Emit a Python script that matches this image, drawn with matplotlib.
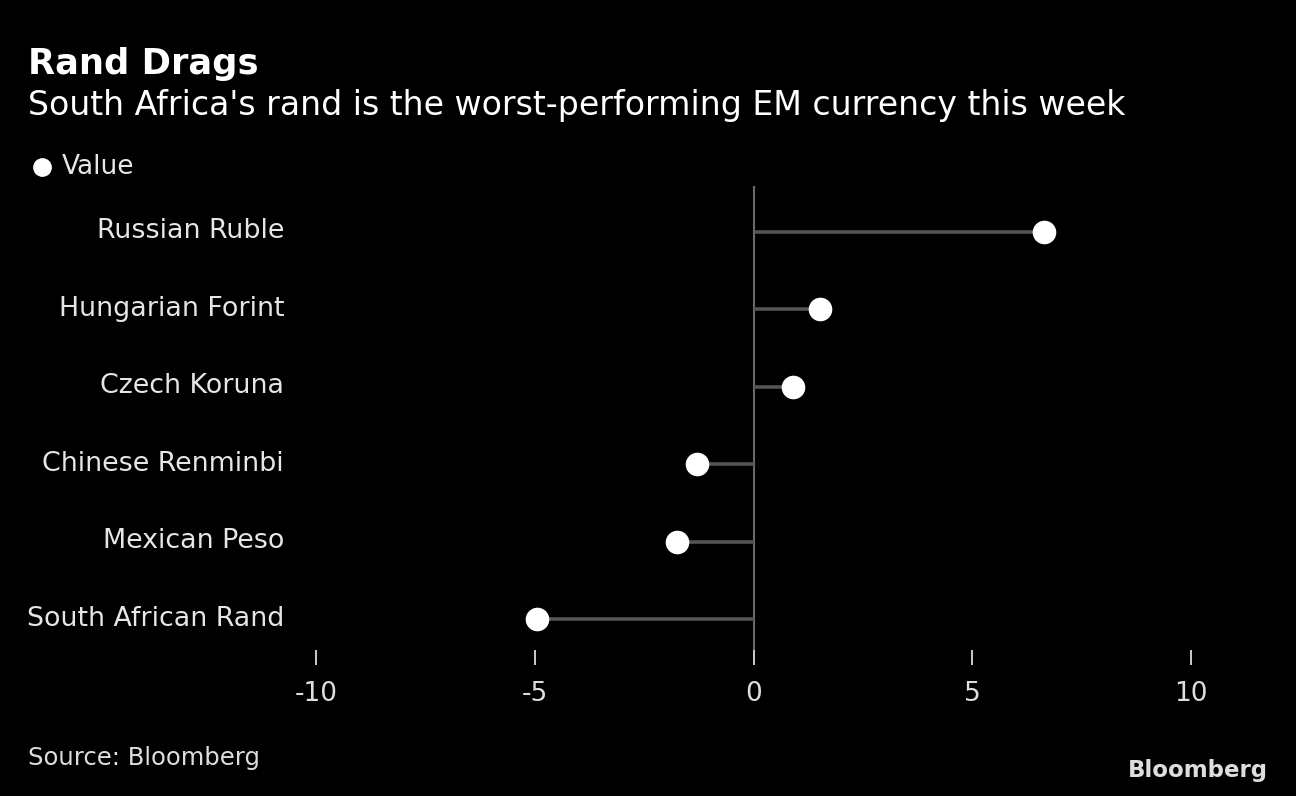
import matplotlib
matplotlib.use("Agg")
import matplotlib.pyplot as plt
from matplotlib.transforms import ScaledTranslation

categories = ["South African Rand", "Mexican Peso", "Chinese Renminbi",
              "Czech Koruna", "Hungarian Forint", "Russian Ruble"]
values = [-4.95, -1.75, -1.30, 0.90, 1.53, 6.65]
xticks = [-10, -5, 0, 5, 10]
xtick_labels = ["-10", "-5", "0", "5", "10"]

title = "Rand Drags"
subtitle = "South Africa's rand is the worst-performing EM currency this week"
source = "Source: Bloomberg"

plt.rcParams['font.family'] = ['DejaVu Sans']

W, H = 1296, 796
fig = plt.figure(figsize=(W / 100, H / 100), dpi=100, facecolor="black")

left_px, right_px, top_px, bot_px = 316, 1191, 186, 650
ax = fig.add_axes([left_px / W, 1 - bot_px / H, (right_px - left_px) / W, (bot_px - top_px) / H])
ax.set_facecolor("black")
ax.set_xlim(-10, 10)
ax.set_ylim(-0.4, 5.594)

ys = list(range(len(categories)))
ax.hlines(ys, 0, values, color="#555555", linewidth=2.6, zorder=2)
ax.axvline(0, color="#6a6a6a", linewidth=1.5, zorder=1)
ax.plot(values, ys, "o", color="white", markersize=17, markeredgewidth=0, zorder=3, clip_on=False)

for s in ax.spines.values():
    s.set_visible(False)
ax.set_xticks(xticks)
ax.set_xticklabels(xtick_labels)
ax.tick_params(axis="x", length=10.5, width=1.4, color="#cccccc", pad=12,
               labelsize=19, labelcolor="#dddddd", direction="out")
ax.set_yticks(ys)
ax.set_yticklabels(categories)
ax.tick_params(axis="y", length=0, pad=23, labelsize=19.4, labelcolor="#e6e6e6")
shift = ScaledTranslation(0, 3.5 / 100, fig.dpi_scale_trans)
for lbl in ax.get_yticklabels():
    lbl.set_verticalalignment("center_baseline")
    lbl.set_transform(lbl.get_transform() + shift)

def fx(px):
    return px / W

def fy(py):
    return 1 - py / H

fig.text(fx(28), fy(64), title, color="white", fontsize=25.4, fontweight="bold",
         ha="left", va="center")
fig.text(fx(28), fy(106), subtitle, color="white", fontsize=23.9,
         ha="left", va="center")
fig.lines.append(plt.Line2D([fx(42)], [fy(167)], marker="o", color="white",
                            markersize=13.5, markeredgewidth=0, transform=fig.transFigure))
fig.text(fx(62), fy(167), "Value", color="#e6e6e6", fontsize=19, ha="left", va="center")
fig.text(fx(28), fy(758), source, color="#dddddd", fontsize=17.5, ha="left", va="center")
fig.text(fx(1268), fy(770), "Bloomberg", color="#dddddd", fontsize=16.5,
         fontweight="bold", ha="right", va="center")

fig.savefig("out.png", dpi=100, facecolor="black")
